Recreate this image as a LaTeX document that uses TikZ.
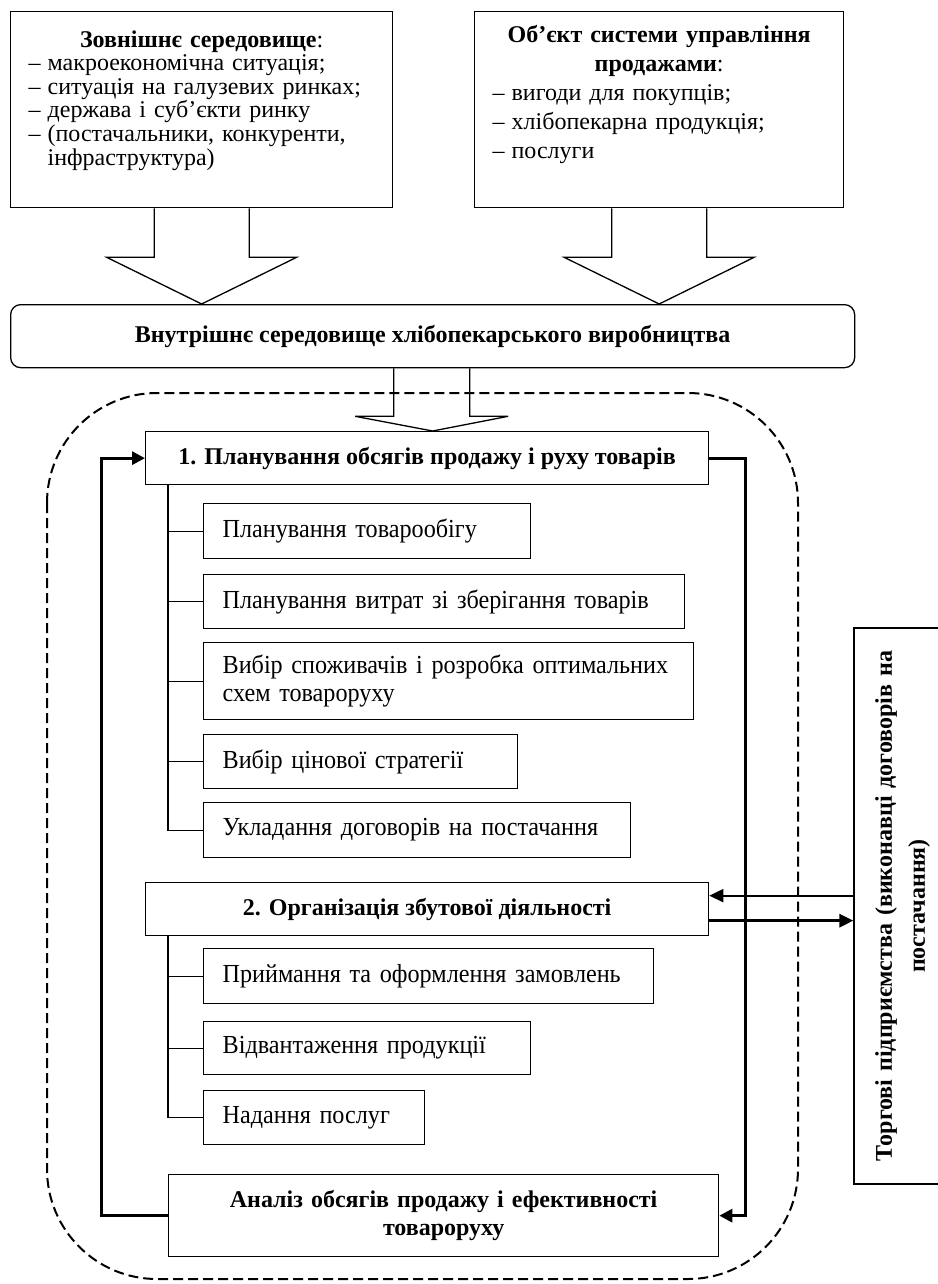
\documentclass[tikz,border=0pt]{standalone}
\usepackage{fontspec}
\setmainfont{Liberation Serif}
\newfontfamily\subfont[FakeStretch=0.93]{Liberation Serif}
\usetikzlibrary{arrows.meta,calc}
\newcommand{\listdash}{\makebox[19pt][l]{–}}
\tikzset{
    base-box/.style = {draw, line width=1.3pt, font=\fontsize{24pt}{28pt}\selectfont},
    top-box/.style = {base-box, anchor=north west, inner xsep=18pt, inner ysep=0pt, align=left},
    step-box/.style = {base-box, anchor=north west, font=\fontsize{24pt}{28pt}\bfseries},
    sub-box/.style = {base-box, anchor=north west, inner xsep=19pt, inner ysep=0pt, align=left,
                      font=\subfont\fontsize{26pt}{28pt}\selectfont},
    wide-arrow/.style = {line width=1.3pt, line join=miter},
    region/.style = {line width=2pt, dash pattern=on 10pt off 5pt, rounded corners=110pt},
    loop-line/.style = {line width=3pt, -{Triangle[length=13pt,width=13pt]}},
    tree-line/.style = {line width=1.3pt},
}

\begin{document}
\begin{tikzpicture}[x=1pt, y=-1pt]
\useasboundingbox (0,0) rectangle (937,1284);

% outer factors
\node[top-box, text width=346pt, minimum height=196pt, font=\fontsize{24pt}{23.6pt}\selectfont] (ext) at (10,11) {%
    {\centering\textbf{Зовнішнє середовище}:\par}
    \listdash макроекономічна ситуація;\\
    \listdash ситуація на галузевих ринках;\\
    \listdash держава і суб’єкти ринку\\
    \listdash (постачальники, конкуренти,\\
    \hspace*{19pt}інфраструктура)\par\rule{0pt}{16pt}};
\node[top-box, text width=333pt, minimum height=196pt, font=\fontsize{24pt}{29pt}\selectfont] (obj) at (474,11) {%
    {\centering\textbf{Об’єкт системи управління\\продажами}:\par}
    \listdash вигоди для покупців;\\
    \listdash хлібопекарна продукція;\\
    \listdash послуги\par\rule{0pt}{30pt}};

\node[step-box, minimum width=844pt, minimum height=63pt, rounded corners=10pt] (inner) at (10,304)
    {Внутрішнє середовище хлібопекарського виробництва};

\draw[wide-arrow] ($(ext.south)+(-47.5,0)$) -- ++(0,49) -- ++(-47.5,0) -- (ext.south |- inner.north)
    -- ($(ext.south)+(95,49)$) -- ++(-47.5,0) -- ++(0,-49);
\draw[wide-arrow] ($(obj.south)+(-47.5,0)$) -- ++(0,49) -- ++(-47.5,0) -- (obj.south |- inner.north)
    -- ($(obj.south)+(95,49)$) -- ++(-47.5,0) -- ++(0,-49);

% management cycle
\draw[region] (47,393) rectangle (798,1279);

\node[step-box, minimum width=563pt, minimum height=53pt] (plan) at (145,431)
    {1. Планування обсягів продажу і руху товарів};

\draw[wide-arrow] ($(inner.south)+(-39,0)$) -- ++(0,48) -- ++(-38.5,0) -- (inner.south |- plan.north)
    -- ($(inner.south)+(75.5,48)$) -- ++(-38.5,0) -- ++(0,-48);

\node[sub-box, text width=289pt, minimum height=55pt] (s1) at (203,503) {Планування товарообігу};
\node[sub-box, text width=443pt, minimum height=54pt] (s2) at (203,574) {Планування витрат зі зберігання товарів};
\node[sub-box, text width=452pt, minimum height=77pt] (s3) at (203,642) {Вибір споживачів і розробка оптимальних\\схем товароруху};
\node[sub-box, text width=276pt, minimum height=54pt] (s4) at (203,734) {Вибір цінової стратегії};
\node[sub-box, text width=389pt, minimum height=55pt] (s5) at (203,802) {Укладання договорів на постачання};

\node[step-box, minimum width=563pt, minimum height=53pt] (org) at (145,882)
    {2. Організація збутової діяльності};

\node[sub-box, text width=412pt, minimum height=55pt] (s6) at (203,948) {Приймання та оформлення замовлень};
\node[sub-box, text width=289pt, minimum height=53pt] (s7) at (203,1021) {Відвантаження продукції};
\node[sub-box, text width=183pt, minimum height=54pt] (s8) at (203,1090) {Надання послуг};

\node[step-box, minimum width=550pt, minimum height=82pt, text width=520pt, align=center] (anal) at (168,1174)
    {Аналіз обсягів продажу і ефективності\\товароруху};

\node[base-box, rotate=90, minimum width=556pt, minimum height=97pt, text width=540pt, align=center,
      font=\fontsize{24pt}{33pt}\bfseries] (trade) at (902.5,906)
    {Торгові підприємства (виконавці договорів на\\постачання)};

% tree lines
\coordinate (trunk) at ($(s1.west)+(-35,0)$);
\draw[tree-line] (trunk |- plan.south) |- (s5.west);
\foreach \s in {s1,s2,s3,s4} \draw[tree-line] (trunk |- \s.west) -- (\s.west);
\draw[tree-line] (trunk |- org.south) |- (s8.west);
\foreach \s in {s6,s7} \draw[tree-line] (trunk |- \s.west) -- (\s.west);

% feedback
\draw[loop-line] (anal.west) -- ++(-67,0) |- (plan.west);
\draw[loop-line] (plan.east) -- ++(36,0) |- (anal.east);

% links with trade
\draw[line width=2pt, -{Triangle[length=14pt,width=13pt]}] ($(trade.north |- org.east)+(0,-13.5)$) -- ($(org.east)+(0,-13.5)$);
\draw[line width=3pt, -{Triangle[length=14pt,width=13pt]}] ($(org.east)+(0,11.5)$) -- ($(trade.north |- org.east)+(0,11.5)$);
\end{tikzpicture}
\end{document}
